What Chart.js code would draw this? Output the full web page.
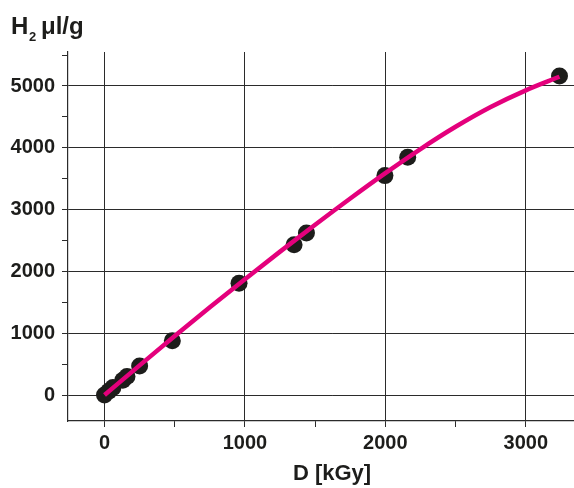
<!DOCTYPE html>
<html><head><meta charset="utf-8">
<script src="https://cdn.jsdelivr.net/npm/chart.js@4"></script>
<style>html,body{margin:0;padding:0;overflow:hidden;background:#fff;width:574px;height:488px}canvas{display:block}</style>
</head><body>
<canvas id="c" width="620" height="488"></canvas>
<script>
// measured points
const doseKGy = [0, 30, 60, 130, 160, 250, 483, 958, 1350, 1438, 1997, 2159, 3240];
const h2Yield = [0, 60, 120, 240, 300, 470, 880, 1810, 2430, 2620, 3550, 3846, 5160];
// fitted curve
const fitDose = [0, 250, 500, 750, 1000, 1250, 1500, 1750, 2000, 2250, 2500, 2750, 3000, 3240];
const fitYield = [0, 480, 955, 1420, 1875, 2320, 2755, 3180, 3590, 3980, 4340, 4660, 4930, 5150];
// tick positions (every 500) and labelled ticks
const xTickValues = [0, 500, 1000, 1500, 2000, 2500, 3000];
const yTickValues = [0, 500, 1000, 1500, 2000, 2500, 3000, 3500, 4000, 4500, 5000, 5500];
const xTickLabels = ['0', '1000', '2000', '3000'];
const yTickLabels = ['0', '1000', '2000', '3000', '4000', '5000'];
const xTitle = 'D [kGy]';
const yTitleMain = 'H', yTitleSub = '2', yTitleRest = 'μl/g';

const INK = '#1d1d1b';
const FONT = 'Liberation Sans';

const yTitlePlugin = {
  id: 'yTitle',
  afterDraw(chart) {
    const ctx = chart.ctx;
    ctx.save();
    ctx.fillStyle = INK;
    ctx.textBaseline = 'alphabetic';
    ctx.textAlign = 'left';
    ctx.font = 'bold 24px "' + FONT + '"';
    ctx.fillText(yTitleMain, 11, 33.5);
    ctx.font = 'bold 13px "' + FONT + '"';
    ctx.fillText(yTitleSub, 29, 40.5);
    ctx.font = 'bold 24px "' + FONT + '"';
    ctx.fillText(yTitleRest, 41, 33.5);
    ctx.restore();
  }
};

const gridColor = c => (c.tick && c.tick.label !== '' && c.tick.label !== undefined) ? '#2b2b2b' : 'rgba(0,0,0,0)';

new Chart(document.getElementById('c'), {
  type: 'scatter',
  data: {
    datasets: [
      {
        type: 'line',
        data: fitDose.map((x, i) => ({ x, y: fitYield[i] })),
        borderColor: '#e4007c',
        borderWidth: 4.5,
        pointRadius: 0,
        cubicInterpolationMode: 'monotone',
        fill: false,
        order: 0
      },
      {
        data: doseKGy.map((x, i) => ({ x, y: h2Yield[i] })),
        backgroundColor: INK,
        borderColor: INK,
        borderWidth: 0,
        pointRadius: 8.5,
        order: 1
      }
    ]
  },
  options: {
    responsive: false,
    animation: false,
    events: [],
    layout: { padding: { top: 52, left: 0, right: 24, bottom: 0 } },
    plugins: { legend: { display: false }, tooltip: { enabled: false } },
    scales: {
      x: {
        type: 'linear', min: -260, max: 3500,
        afterBuildTicks: s => { s.ticks = xTickValues.map(v => ({ value: v })); },
        afterFit: s => { s.height = 67; },
        ticks: {
          autoSkip: false, maxRotation: 0, padding: 4, color: INK,
          font: { family: FONT, weight: 'bold', size: 20 },
          callback: v => xTickLabels.includes(String(v)) ? String(v) : ''
        },
        grid: { color: gridColor, tickColor: '#2b2b2b', tickLength: 6, lineWidth: 1 },
        border: { color: '#2b2b2b', width: 1.2 },
        title: { display: true, text: xTitle, color: INK, font: { family: FONT, weight: 'bold', size: 22 }, padding: { top: 0, bottom: 1 } }
      },
      y: {
        type: 'linear', min: -420, max: 5550,
        afterBuildTicks: s => { s.ticks = yTickValues.map(v => ({ value: v })); },
        afterFit: s => { s.width = 68; },
        ticks: {
          autoSkip: false, padding: 7, color: INK,
          font: { family: FONT, weight: 'bold', size: 20 },
          callback: v => yTickLabels.includes(String(v)) ? String(v) : ''
        },
        grid: { color: gridColor, tickColor: '#2b2b2b', tickLength: 6, lineWidth: 1 },
        border: { color: '#2b2b2b', width: 1.2 }
      }
    }
  },
  plugins: [yTitlePlugin]
});
</script>
</body></html>
